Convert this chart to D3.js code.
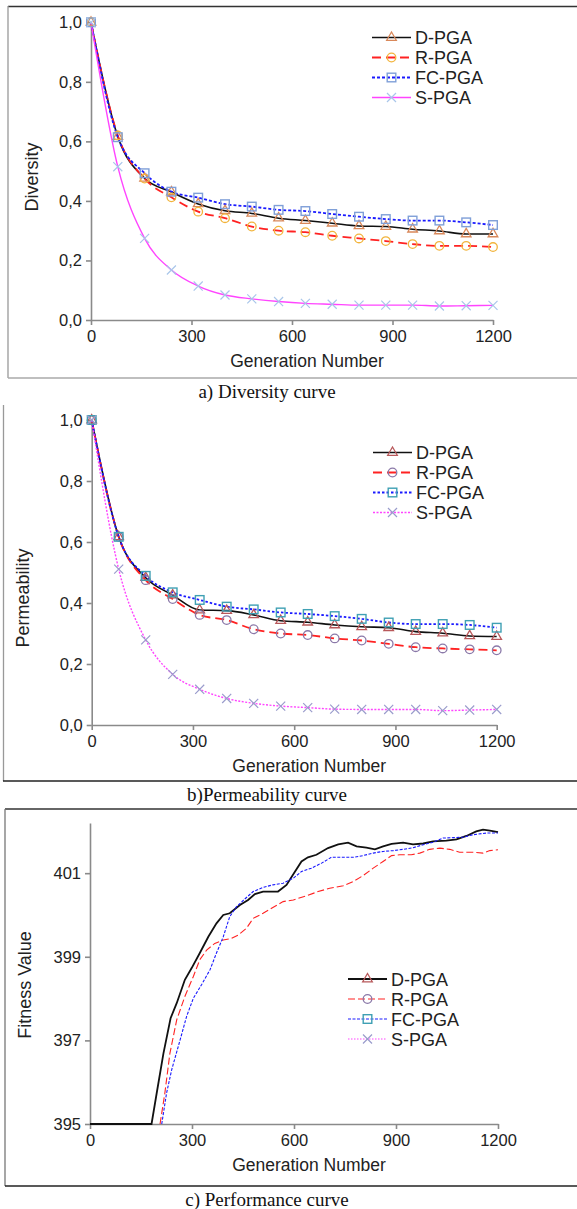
<!DOCTYPE html>
<html>
<head>
<meta charset="utf-8">
<script src="https://cdn.jsdelivr.net/npm/d3@7"></script>
<style>
  body { margin: 0; background: #fff; }
  svg { display: block; }
  .tick text { font-family: "Liberation Sans", Arial, sans-serif; font-size: 16.5px; fill: #222; }
</style>
</head>
<body>
<svg id="chart" width="577" height="1209"></svg>
<script>
// generation numbers where markers sit (panels a and b)
const gens = [0, 80, 160, 240, 320, 400, 480, 560, 640, 720, 800, 880, 960, 1040, 1120, 1200];

// a) diversity
const divD = [1.0, 0.616, 0.476, 0.43, 0.39, 0.367, 0.358, 0.342, 0.334, 0.325, 0.316, 0.314, 0.305, 0.299, 0.289, 0.289];
const divR = [1.0, 0.62, 0.475, 0.412, 0.364, 0.342, 0.314, 0.300, 0.295, 0.283, 0.274, 0.265, 0.255, 0.249, 0.249, 0.245];
const divFC = [1.0, 0.614, 0.493, 0.431, 0.411, 0.389, 0.381, 0.37, 0.366, 0.356, 0.347, 0.339, 0.334, 0.334, 0.328, 0.319];
const divS = [1.0, 0.515, 0.274, 0.168, 0.114, 0.084, 0.071, 0.062, 0.056, 0.053, 0.05, 0.05, 0.05, 0.047, 0.048, 0.049];

// b) permeability
const permD = [1.0, 0.617, 0.483, 0.426, 0.377, 0.375, 0.361, 0.342, 0.337, 0.328, 0.322, 0.319, 0.306, 0.301, 0.292, 0.29];
const permR = [1.0, 0.617, 0.475, 0.413, 0.361, 0.344, 0.314, 0.30, 0.295, 0.284, 0.277, 0.266, 0.255, 0.251, 0.248, 0.245];
const permFC = [1.0, 0.617, 0.489, 0.435, 0.41, 0.388, 0.379, 0.369, 0.364, 0.357, 0.348, 0.336, 0.331, 0.331, 0.328, 0.319];
const permS = [1.0, 0.511, 0.279, 0.166, 0.117, 0.087, 0.071, 0.062, 0.057, 0.052, 0.051, 0.051, 0.051, 0.047, 0.049, 0.051];

// c) performance (fitness), [generation, value]
const fitD = [[0, 395], [181, 395], [196, 395.73], [216, 396.69], [237, 397.53], [255, 397.89], [279, 398.45], [299, 398.73],
  [323, 399.09], [348, 399.48], [372, 399.8], [392, 400.0], [411, 400.04], [441, 400.24], [465, 400.36], [485, 400.5],
  [509, 400.56], [553, 400.56], [578, 400.72], [597, 400.96], [622, 401.28], [641, 401.38], [666, 401.44], [700, 401.6],
  [730, 401.69], [759, 401.73], [784, 401.64], [813, 401.61], [838, 401.57], [862, 401.64], [887, 401.7], [921, 401.73],
  [950, 401.69], [980, 401.71], [1009, 401.76], [1048, 401.78], [1078, 401.81], [1107, 401.89], [1136, 402.0],
  [1156, 402.04], [1176, 402.02], [1200, 401.98]];
const fitR = [[206, 395], [220, 395.73], [235, 396.69], [255, 397.49], [279, 398.05], [304, 398.53], [323, 398.93],
  [343, 399.16], [367, 399.32], [392, 399.4], [416, 399.44], [436, 399.52], [460, 399.68], [480, 399.92], [509, 400.04],
  [534, 400.16], [568, 400.32], [598, 400.36], [637, 400.46], [671, 400.56], [705, 400.64], [745, 400.7], [774, 400.8],
  [803, 400.94], [833, 401.12], [862, 401.28], [887, 401.42], [911, 401.44], [945, 401.44], [970, 401.48], [999, 401.57],
  [1029, 401.6], [1058, 401.57], [1087, 401.5], [1127, 401.5], [1156, 401.48], [1176, 401.54], [1200, 401.56]];
const fitFC = [[211, 395], [225, 395.73], [240, 396.29], [265, 397.01], [284, 397.57], [304, 398.01], [328, 398.33],
  [353, 398.69], [372, 399.09], [392, 399.48], [411, 399.96], [431, 400.2], [455, 400.38], [480, 400.56], [509, 400.66],
  [538, 400.72], [568, 400.76], [598, 400.88], [622, 401.04], [651, 401.12], [681, 401.24], [710, 401.38], [745, 401.38],
  [774, 401.38], [803, 401.42], [833, 401.48], [862, 401.52], [892, 401.54], [921, 401.57], [950, 401.61], [980, 401.68],
  [1009, 401.74], [1038, 401.84], [1068, 401.85], [1097, 401.86], [1127, 401.92], [1166, 401.96], [1200, 401.96]];

const seriesNames = ["D-PGA", "R-PGA", "FC-PGA", "S-PGA"];
const xTicks = [0, 300, 600, 900, 1200];
const probTicks = [0, 0.2, 0.4, 0.6, 0.8, 1.0];
const fitTicks = [395, 397, 399, 401];
const captions = ["a) Diversity curve", "b)Permeability curve", "c) Performance curve"];

const svg = d3.select("#chart");
const sans = '"Liberation Sans", Arial, sans-serif';
const serif = '"Liberation Serif", "Times New Roman", serif';
const comma = d => d3.format(".1f")(d).replace(".", ",");

const lineStyle = {
  "D-PGA": { color: "#111", width: 1.6, dash: null },
  "R-PGA": { color: "#ff2222", width: 1.8, dash: "9,5" },
  "FC-PGA": { color: "#1a1aff", width: 1.8, dash: "3,2" },
  "S-PGA": { color: "#ff44ff", width: 1.4, dash: null }
};

function drawMarker(g, type, x, y, color) {
  if (type === "D-PGA") {
    g.append("path").attr("d", d3.symbol(d3.symbolTriangle, 40)()).attr("transform", `translate(${x},${y})`)
      .attr("fill", "none").attr("stroke", color).attr("stroke-width", 1.3);
  } else if (type === "R-PGA") {
    g.append("circle").attr("cx", x).attr("cy", y).attr("r", 4.3)
      .attr("fill", "none").attr("stroke", color).attr("stroke-width", 1.3);
  } else if (type === "FC-PGA") {
    g.append("rect").attr("x", x - 4.3).attr("y", y - 4.3).attr("width", 8.6).attr("height", 8.6)
      .attr("fill", "none").attr("stroke", color).attr("stroke-width", 1.4);
  } else {
    g.append("path").attr("d", d3.symbol(d3.symbolX, 55)()).attr("transform", `translate(${x},${y})`)
      .attr("fill", "none").attr("stroke", color).attr("stroke-width", 1.2);
  }
}

function drawPanel(p) {
  const g = svg.append("g");
  const x = d3.scaleLinear().domain([0, 1200]).range(p.xr);
  const y = d3.scaleLinear().domain(p.ydom).range(p.yr);

  // axes
  const yAxis = g.append("g").attr("transform", `translate(${p.xr[0]},0)`)
    .call(d3.axisLeft(y).tickValues(p.yticks).tickFormat(p.yfmt).tickSize(5).tickSizeOuter(0).tickPadding(4));
  const xAxis = g.append("g").attr("transform", `translate(0,${p.yr[0]})`)
    .call(d3.axisBottom(x).tickValues(xTicks).tickFormat(d3.format("d")).tickSize(5).tickSizeOuter(0).tickPadding(5));
  [yAxis, xAxis].forEach(a => {
    a.selectAll("path, line").attr("stroke", "#8a8a8a").attr("stroke-width", 1.6);
  });

  // lines
  p.series.forEach((s, i) => {
    const st = lineStyle[seriesNames[i]];
    const color = st.color;
    g.append("path").datum(s)
      .attr("fill", "none").attr("stroke", color).attr("stroke-width", p.widths ? p.widths[i] : st.width)
      .attr("stroke-dasharray", p.dashes ? p.dashes[i] : st.dash)
      .attr("d", d3.line().x(d => x(d[0])).y(d => y(d[1])).curve(p.curve)(s));
  });
  // markers
  if (p.markers) {
    p.series.forEach((s, i) => {
      s.forEach(d => drawMarker(g, seriesNames[i], x(d[0]), y(d[1]), p.markerColors[i]));
    });
  }

  // axis titles
  g.append("text").attr("x", (p.xr[0] + p.xr[1]) / 2 + 15).attr("y", p.yr[0] + 47)
    .attr("text-anchor", "middle").attr("font-family", sans).attr("font-size", 17.5).attr("fill", "#222")
    .text("Generation Number");
  g.append("text").attr("transform", `translate(${p.ytx},${p.yty}) rotate(-90)`)
    .attr("text-anchor", "middle").attr("font-family", sans).attr("font-size", 18).attr("fill", "#222")
    .text(p.ytitle);

  // legend
  seriesNames.forEach((n, i) => {
    const ly = p.legend.y + i * 20;
    const lc = lineStyle[n].color;
    g.append("line").attr("x1", p.legend.x).attr("x2", p.legend.x + p.legend.w).attr("y1", ly).attr("y2", ly)
      .attr("stroke", lc).attr("stroke-width", p.widths ? p.widths[i] : lineStyle[n].width)
      .attr("stroke-dasharray", p.dashes ? p.dashes[i] : lineStyle[n].dash);
    drawMarker(g, n, p.legend.x + p.legend.w / 2, ly, p.markerColors[i]);
    g.append("text").attr("x", p.legend.x + p.legend.w + 4).attr("y", ly + 6.5)
      .attr("font-family", sans).attr("font-size", 18).attr("fill", "#222").text(n);
  });

  // caption
  svg.append("text").attr("x", p.capX).attr("y", p.capY).attr("text-anchor", "middle")
    .attr("font-family", serif).attr("font-size", 19).attr("fill", "#111").text(p.caption);
}

const zip = arr => gens.map((gv, i) => [gv, arr[i]]);

// frames
const frame = (x1, y1, x2, y2, c, w) => svg.append("line").attr("x1", x1).attr("y1", y1).attr("x2", x2).attr("y2", y2)
  .attr("stroke", c).attr("stroke-width", w);
frame(8, 6.5, 577, 6.5, "#333", 1.3);
frame(8, 6, 8, 378, "#999", 1.3);
frame(8, 378, 577, 378, "#aaa", 1.3);
frame(3.5, 405, 3.5, 781, "#999", 1.3);
frame(3, 781, 577, 781, "#222", 1.5);
frame(5, 809, 577, 809, "#333", 1.3);
frame(5, 809, 5, 1186, "#777", 1.3);
frame(5, 1186, 577, 1186, "#222", 1.5);

drawPanel({
  xr: [91, 493], yr: [320, 22.3], ydom: [0, 1], yticks: probTicks, yfmt: comma,
  series: [zip(divD), zip(divR), zip(divFC), zip(divS)],
  curve: d3.curveMonotoneX, markers: true,
  markerColors: ["#d9885a", "#f2b43c", "#7f9fd8", "#a9c6ea"],
  ytitle: "Diversity", ytx: 38, yty: 177,
  legend: { x: 372, y: 37.5, w: 39 },
  caption: captions[0], capX: 267, capY: 398
});

drawPanel({
  xr: [91.7, 496.7], yr: [725, 420], ydom: [0, 1], yticks: probTicks, yfmt: comma,
  series: [zip(permD), zip(permR), zip(permFC), zip(permS)],
  curve: d3.curveMonotoneX, markers: true,
  markerColors: ["#b8585a", "#8a78a8", "#3fa0b4", "#9a9ccc"],
  dashes: [null, "9,5", "2.5,2", "2,1.5"],
  ytitle: "Permeability", ytx: 29, yty: 598,
  legend: { x: 373, y: 452.5, w: 39 },
  caption: captions[1], capX: 267, capY: 801
});

drawPanel({
  xr: [90, 498], yr: [1124, 823], ydom: [395, 402.2], yticks: fitTicks, yfmt: d3.format("d"),
  series: [fitD, fitR, fitFC],
  curve: d3.curveLinear, markers: false,
  markerColors: ["#b8585a", "#8a78a8", "#3fa0b4", "#9a9ccc"],
  widths: [1.8, 1.1, 1.1, 1.1],
  dashes: [null, "7,3", "3,1.5", "1.5,1.5"],
  ytitle: "Fitness Value", ytx: 31, yty: 985,
  legend: { x: 348, y: 979, w: 39 },
  caption: captions[2], capX: 267, capY: 1206
});
</script>
</body>
</html>
